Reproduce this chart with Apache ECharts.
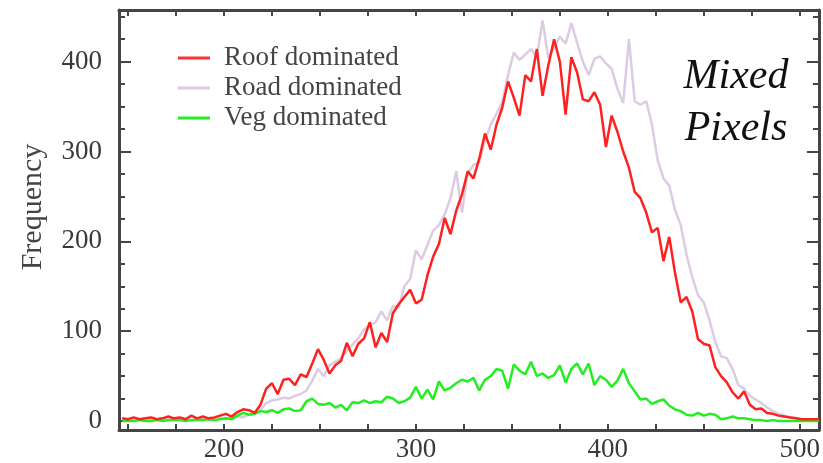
<!DOCTYPE html>
<html>
<head>
<meta charset="UTF-8">
<title>Mixed Pixels</title>
<script src="https://cdn.jsdelivr.net/npm/echarts@6/dist/echarts.min.js"></script>
<style>
  html, body { margin: 0; padding: 0; background: #fff; }
  #chart { width: 823px; height: 463px; }
</style>
</head>
<body>
<div id="chart"></div>
<script>
// histogram bins: 147, 150, ... 510
const binStart = 147;
const binStep = 3;

const roofDominated = [
  3, 2, 4, 2, 3, 4, 2, 3, 5, 3,
  4, 2, 6, 3, 5, 3, 4, 6, 8, 5,
  10, 13, 12, 9, 18, 36, 42, 30, 46, 47,
  40, 52, 49, 64, 80, 68, 53, 62, 67, 87,
  72, 86, 92, 110, 82, 98, 88, 120, 130, 138,
  146, 131, 135, 162, 183, 197, 226, 208, 234, 252,
  278, 270, 292, 320, 302, 330, 349, 378, 360, 340,
  385, 378, 414, 362, 396, 425, 400, 341, 405, 388,
  358, 356, 366, 352, 305, 340, 322, 300, 282, 255,
  248, 232, 210, 215, 178, 205, 165, 132, 138, 122,
  91, 86, 84, 60, 50, 43, 32, 25, 33, 18,
  13, 14, 9, 8, 6, 5, 4, 3, 2, 2,
  2, 2
];

const roadDominated = [
  2, 1, 1, 2, 1, 1, 2, 1, 1, 2,
  1, 2, 1, 2, 2, 1, 2, 3, 2, 4,
  5, 4, 7, 9, 12, 20, 23, 24, 26, 25,
  28, 30, 34, 45, 58, 50, 62, 66, 70, 78,
  85, 92, 102, 106, 110, 122, 112, 128, 126, 150,
  158, 190, 180, 196, 212, 218, 230, 248, 278, 232,
  276, 285, 288, 312, 330, 342, 355, 385, 410, 402,
  408, 414, 405, 446, 404, 415, 428, 420, 443, 421,
  400, 385, 403, 406, 398, 392, 370, 354, 425, 356,
  352, 356, 330, 290, 270, 262, 235, 218, 185, 160,
  140, 132, 112, 88, 72, 70, 58, 40, 36, 28,
  24, 20, 15, 11, 8, 6, 4, 3, 2, 2,
  1, 1
];

const vegDominated = [
  0, 0, 0, 1, 0, 0, 1, 0, 1, 1,
  1, 0, 1, 1, 1, 2, 1, 2, 3, 2,
  6, 9, 7, 8, 11, 10, 12, 9, 13, 14,
  11, 12, 22, 25, 19, 18, 20, 15, 18, 12,
  21, 20, 23, 20, 22, 21, 27, 25, 20, 22,
  26, 38, 25, 35, 24, 44, 34, 37, 42, 46,
  44, 48, 34, 46, 50, 58, 56, 36, 63, 56,
  52, 66, 50, 53, 48, 51, 62, 43, 58, 64,
  52, 64, 40, 50, 46, 38, 45, 58, 42, 33,
  24, 25, 19, 22, 24, 17, 13, 11, 7, 6,
  9, 6, 8, 7, 2, 3, 5, 3, 3, 2,
  1, 1, 0, 1, 0, 0, 0, 0, 0, 0,
  0, 0
];

const seriesNames = ['Roof dominated', 'Road dominated', 'Veg dominated'];
const xLabelValues = [200, 300, 400, 500];
const yLabelValues = [0, 100, 200, 300, 400];

function toPairs(values) {
  return values.map((v, i) => [binStart + i * binStep, v]);
}

function range(a, b, step) {
  const out = [];
  for (let v = a; v <= b; v += step) out.push(v);
  return out;
}

const serif = '"Liberation Serif", "DejaVu Serif", serif';
const axisColor = '#454545';
const xMin = 145.3, xMax = 510;
const yMin = -10, yMax = 457.5;

const xMinor = range(150, 500, 25);
const yMinor = range(0, 450, 25);

function xAxisDef(pos, showLabels) {
  return {
    type: 'value', position: pos, min: xMin, max: xMax,
    axisLine: { show: true, onZero: false, lineStyle: { color: axisColor, width: 3 } },
    axisTick: { show: true, inside: true, length: 6, customValues: xMinor, lineStyle: { color: axisColor, width: 2 } },
    axisLabel: showLabels ? { show: true, customValues: xLabelValues, margin: 6, fontFamily: serif, fontSize: 27, color: '#3a3a3a' } : { show: false },
    splitLine: { show: false }
  };
}

function yAxisDef(pos, ticks, len, showLine, showLabels) {
  return {
    type: 'value', position: pos, offset: 0, min: yMin, max: yMax,
    axisLine: { show: showLine, onZero: false, lineStyle: { color: axisColor, width: 3 } },
    axisTick: { show: true, inside: true, length: len, customValues: ticks, lineStyle: { color: axisColor, width: 2 } },
    axisLabel: showLabels ? { show: true, customValues: yLabelValues, margin: 17, fontFamily: serif, fontSize: 27, color: '#3a3a3a', padding: [0, 0, 8, 0] } : { show: false },
    splitLine: { show: false }
  };
}

const chart = echarts.init(document.getElementById('chart'));

chart.setOption({
  animation: false,
  backgroundColor: '#fff',
  grid: { left: 119, right: 1, top: 10, bottom: 23 },
  xAxis: [xAxisDef('bottom', true), xAxisDef('top', false)],
  yAxis: [
    yAxisDef('left', yLabelValues, 12, true, true),
    yAxisDef('left', yMinor, 6, false, false),
    yAxisDef('right', yLabelValues, 12, true, false),
    yAxisDef('right', yMinor, 6, false, false)
  ],
  legend: {
    data: seriesNames,
    orient: 'vertical',
    left: 173, top: 39,
    icon: 'rect',
    itemWidth: 32, itemHeight: 3,
    itemGap: 2,
    textStyle: { fontFamily: serif, fontSize: 27, color: '#444', lineHeight: 28, padding: [0, 0, 0, 9] }
  },
  graphic: [
    {
      type: 'text', x: 33, y: 207, rotation: Math.PI / 2,
      style: { text: 'Frequency', fontFamily: serif, fontSize: 30, fill: '#444', align: 'center', verticalAlign: 'middle' }
    },
    {
      type: 'text', x: 736, y: 103,
      style: { text: 'Mixed\nPixels', fontFamily: serif, fontStyle: 'italic', fontSize: 42, lineHeight: 52, fill: '#111', align: 'center', verticalAlign: 'middle' }
    }
  ],
  series: [
    {
      name: seriesNames[1], type: 'line', data: toPairs(roadDominated),
      showSymbol: false, color: '#dccbe3', lineStyle: { width: 2.5, color: '#dccbe3' }
    },
    {
      name: seriesNames[2], type: 'line', data: toPairs(vegDominated),
      showSymbol: false, color: '#22ee22', lineStyle: { width: 2.5, color: '#22ee22' }
    },
    {
      name: seriesNames[0], type: 'line', data: toPairs(roofDominated),
      showSymbol: false, color: '#ff3030', lineStyle: { width: 2.5, color: '#ff2020' }
    }
  ]
});
</script>
</body>
</html>
